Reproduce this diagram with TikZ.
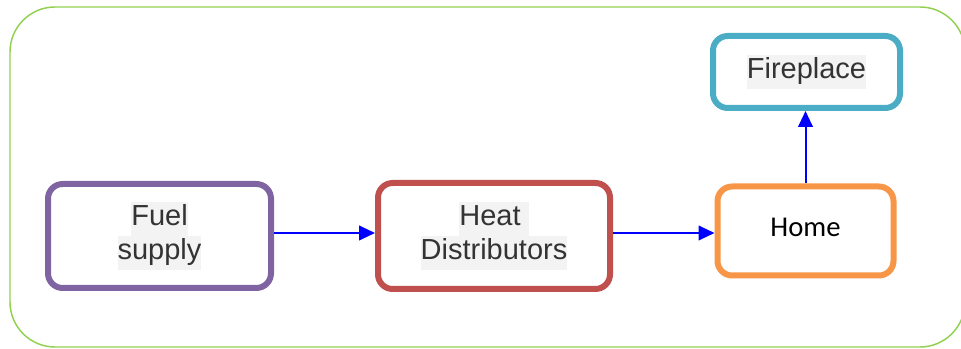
\documentclass[tikz,border=0pt]{standalone}
\usepackage{fontspec}
\setmainfont{Liberation Sans}
\newfontfamily\homefont{Carlito}
\usetikzlibrary{arrows.meta, positioning}
\definecolor{fuelpurple}{HTML}{8064A2}
\definecolor{heatred}{HTML}{C0504D}
\definecolor{homeorange}{HTML}{F79646}
\definecolor{firecyan}{HTML}{4BACC6}
\definecolor{framegreen}{HTML}{92D050}
\definecolor{hlgray}{HTML}{F3F3F3}
\definecolor{textgray}{HTML}{333333}
\newcommand{\hlt}[1]{{\setlength{\fboxsep}{0pt}\colorbox{hlgray}{\strut #1}}}

\begin{document}
\begin{tikzpicture}[x=0.75pt, y=-0.75pt, >={Triangle[length=12pt, width=11pt]},
		box/.style={draw, rectangle, rounded corners=11pt, line width=4.5pt, align=center, inner sep=0pt, font=\fontsize{21.75}{25.5}\selectfont, text=textgray},
		flow/.style={->, draw=blue, line width=1.5pt},
		frame/.style={draw=framegreen, line width=1.1pt, rounded corners=33.75pt}]
		\useasboundingbox (0,0) rectangle (961,349);
		\draw[frame] (10,7) rectangle (965,347);
	
		\node [box, draw=fuelpurple, minimum width=167.25pt, minimum height=78pt] (fuel) at (159.5,236) {\hlt{Fuel}\\\hlt{supply}};
		\node [box, draw=heatred, minimum width=174pt, minimum height=79.5pt] (heat) at (494,236) {\hlt{Heat\ }\\\hlt{Distributors}};
		\node [box, draw=homeorange, minimum width=132pt, minimum height=66.75pt, text=black, font=\homefont\fontsize{21.5}{25}\selectfont] (home) at (805.5,231) {\raisebox{5.25pt}{Home}};
		\node [box, draw=firecyan, minimum width=140.25pt, minimum height=54pt] (fireplace) at (806.5,72) {\hlt{Fireplace}};
	
		\draw[flow] ([yshift=2.25pt]fuel.east) -- ([yshift=2.25pt]heat.west);
		\draw[flow] ([yshift=2.25pt]heat.east) -- ([yshift=2.25pt]heat.east -| home.west);
		\draw[flow] (home.north) -- (home.north |- fireplace.south);
	\end{tikzpicture}
\end{document}
